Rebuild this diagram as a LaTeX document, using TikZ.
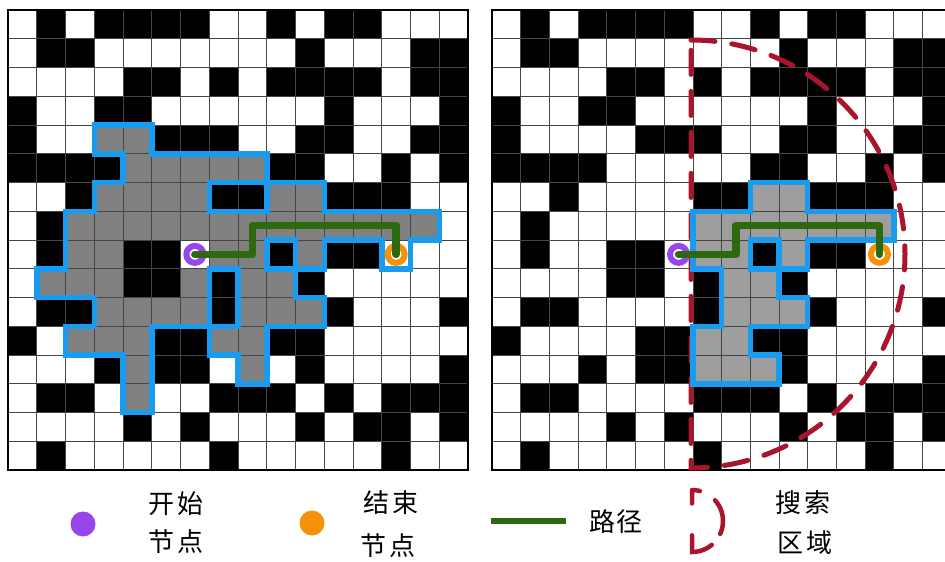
\documentclass[tikz,border=0pt]{standalone}
\usepackage{fontspec}
\newfontfamily\cjkfont{Noto Sans CJK SC}
\definecolor{pathgreen}{RGB}{45,105,15}
\definecolor{outblue}{RGB}{25,155,240}
\definecolor{startpurple}{RGB}{150,70,235}
\definecolor{endorange}{RGB}{245,145,10}
\definecolor{regionred}{RGB}{170,20,45}
\definecolor{visitL}{RGB}{128,128,128}
\definecolor{visitR}{RGB}{158,158,158}
\definecolor{gridgray}{RGB}{70,70,70}

\newcommand\mazerows{%
{0,1,0,1,1,1,1,0,0,1,0,1,1,0,0,0},%
{0,1,1,0,0,0,0,0,0,0,1,0,0,0,1,1},%
{0,0,0,0,1,1,0,1,0,1,1,1,1,0,1,1},%
{1,0,0,1,1,0,0,0,0,0,0,1,0,0,0,1},%
{1,0,0,0,0,1,1,1,0,0,1,1,0,0,1,1},%
{1,1,1,1,0,0,0,0,0,1,1,0,0,1,0,1},%
{0,0,1,0,0,0,0,1,1,0,0,1,1,1,0,0},%
{0,1,0,0,0,0,0,0,0,0,0,0,0,0,0,0},%
{0,1,0,0,1,1,0,0,0,1,0,1,1,0,0,0},%
{0,0,0,0,1,1,0,1,0,0,1,0,0,0,0,0},%
{0,1,1,0,0,0,0,1,0,0,0,1,0,0,0,1},%
{1,0,0,0,0,1,1,0,0,1,1,0,0,0,0,0},%
{0,0,0,1,0,1,1,0,0,0,1,0,0,0,0,1},%
{0,1,1,0,0,0,0,1,1,1,0,1,0,1,1,1},%
{0,0,0,0,1,0,1,0,0,0,1,0,1,1,0,1},%
{0,1,0,0,0,0,0,1,0,0,0,0,0,1,0,0}}

\newcommand\mazecells{%
  \fill[white] (0,0) rectangle (16,16);
  \foreach \row [count=\r from 0] in \mazerows {%
    \foreach \v [count=\c from 0] in \row {%
      \ifnum\v=1 \fill[black] (\c,\r) rectangle ++(1,1);\fi
    }%
  }%
}
\newcommand\mazelines{%
  \foreach \i in {0,...,16} {%
    \draw[gridln] (\i,0) -- (\i,16);
    \draw[gridln] (0,\i) -- (16,\i);
  }%
}

\begin{document}
\begin{tikzpicture}[x=1pt,y=-1pt,
  gridln/.style={draw=gridgray, line width=0.8pt},
  visitborder/.style={draw=outblue, line width=5.5pt, line join=miter},
  routeline/.style={draw=pathgreen, line width=7.5pt, line cap=round, line join=round},
  startring/.style={circle, draw=startpurple, line width=6pt, minimum size=17pt, inner sep=0pt},
  endring/.style={circle, draw=endorange, line width=6pt, minimum size=17pt, inner sep=0pt},
  searcharea/.style={draw=regionred, line width=5pt, line cap=round, dash pattern=on 24pt off 17pt},
  legtext/.style={font=\cjkfont\fontsize{26pt}{30pt}\selectfont, inner sep=0pt, text=black},
]
\useasboundingbox (0,0) rectangle (945,562);
\fill[white] (0,0) rectangle (945,562);

% ---------- left grid ----------
\begin{scope}[shift={(8,10)}, x=28.75pt, y=-28.75pt]
  \mazecells
  \foreach \c/\r in {3/4,4/4, 4/5,5/5,6/5,7/5,8/5, 3/6,4/6,5/6,6/6,9/6,10/6,
     2/7,3/7,4/7,5/7,6/7,7/7,8/7,9/7,10/7,11/7,12/7,13/7,14/7,
     2/8,3/8,7/8,8/8,10/8, 1/9,2/9,3/9,6/9,8/9,9/9,
     3/10,4/10,5/10,6/10,8/10,9/10,10/10, 2/11,3/11,4/11,7/11,8/11,
     4/12,8/12, 4/13}
     {\fill[visitL] (\c,\r) rectangle ++(1,1);}
  \mazelines
  \draw[line width=1.8pt] (0,0) rectangle (16,16);
  \draw[visitborder] (3,4) -- (5,4) -- (5,5) -- (9,5) -- (9,6) -- (11,6) -- (11,7) -- (15,7)
    -- (15,8) -- (14,8) -- (14,9) -- (13,9) -- (13,8) -- (11,8) -- (11,9) -- (10,9) -- (10,10)
    -- (11,10) -- (11,11) -- (9,11) -- (9,13) -- (8,13) -- (8,12) -- (7,12) -- (7,11) -- (5,11)
    -- (5,14) -- (4,14) -- (4,12) -- (2,12) -- (2,11) -- (3,11) -- (3,10) -- (1,10) -- (1,9)
    -- (2,9) -- (2,7) -- (3,7) -- (3,6) -- (4,6) -- (4,5) -- (3,5) -- cycle;
  \draw[visitborder] (7,6) rectangle (9,7);
  \draw[visitborder] (7,9) rectangle (8,11);
  \draw[visitborder] (9,8) rectangle (10,9);
  \node[startring] (sL) at (6.5,8.5) {};
  \node[endring] (eL) at (13.5,8.5) {};
  \draw[routeline] (sL.center) -- (8.5,8.5) -- (8.5,7.5) -- (13.5,7.5) -- (eL.center);
\end{scope}

% ---------- right grid ----------
\begin{scope}
  \clip (484,0) rectangle (945,480);
  \begin{scope}[shift={(492,10)}, x=28.7pt, y=-28.75pt]
    \mazecells
    \foreach \c/\r in {9/6,10/6, 7/7,8/7,9/7,10/7,11/7,12/7,13/7,
       7/8,8/8,10/8, 8/9,9/9, 8/10,9/10,10/10, 7/11,8/11, 7/12,8/12,9/12}
       {\fill[visitR] (\c,\r) rectangle ++(1,1);}
    \mazelines
    \draw[line width=1.8pt] (0,0) rectangle (16,16);
  \end{scope}
  \draw[searcharea] (691,40) arc[start angle=90, end angle=-90, radius=214pt] -- cycle;
  \begin{scope}[shift={(492,10)}, x=28.7pt, y=-28.75pt]
    \draw[visitborder] (7,7) -- (9,7) -- (9,6) -- (11,6) -- (11,7) -- (14,7) -- (14,8) -- (11,8)
      -- (11,9) -- (10,9) -- (10,10) -- (11,10) -- (11,11) -- (9,11) -- (9,12) -- (10,12)
      -- (10,13) -- (7,13) -- (7,11) -- (8,11) -- (8,9) -- (7,9) -- cycle;
    \draw[visitborder] (9,8) rectangle (10,9);
    \node[startring] (sR) at (6.5,8.5) {};
    \node[endring] (eR) at (13.5,8.5) {};
    \draw[routeline] (sR.center) -- (8.5,8.5) -- (8.5,7.5) -- (13.5,7.5) -- (eR.center);
  \end{scope}
\end{scope}

% ---------- legend ----------
\node[circle, fill=startpurple, minimum size=25pt, inner sep=0pt] (legS) at (83,524) {};
\node[legtext] (legSa) at (176,504) {开\hspace{4pt}始};
\node[legtext] (legSb) at (176,542) {节\hspace{4pt}点};
\node[circle, fill=endorange, minimum size=25pt, inner sep=0pt] (legE) at (312,523) {};
\node[legtext] (legEa) at (391,503) {结\hspace{4pt}束};
\node[legtext] (legEb) at (388,546) {节\hspace{4pt}点};
\coordinate (legPa) at (491,521);
\coordinate (legPb) at (566,521);
\draw[pathgreen, line width=6pt] (legPa) -- (legPb);
\node[legtext] (legP) at (616,522) {路\hspace{2pt}径};
\draw[draw=regionred, line width=4.5pt, line cap=round,
      dash pattern=on 8pt off 18pt on 36pt off 14pt on 38pt off 32pt on 13pt off 0.1pt]
      (692,490) arc[start angle=90, end angle=-90, radius=31pt] -- cycle;
\node[legtext] (legRa) at (803,503) {搜\hspace{4pt}索};
\node[legtext] (legRb) at (805,543) {区\hspace{4pt}域};
\end{tikzpicture}
\end{document}
